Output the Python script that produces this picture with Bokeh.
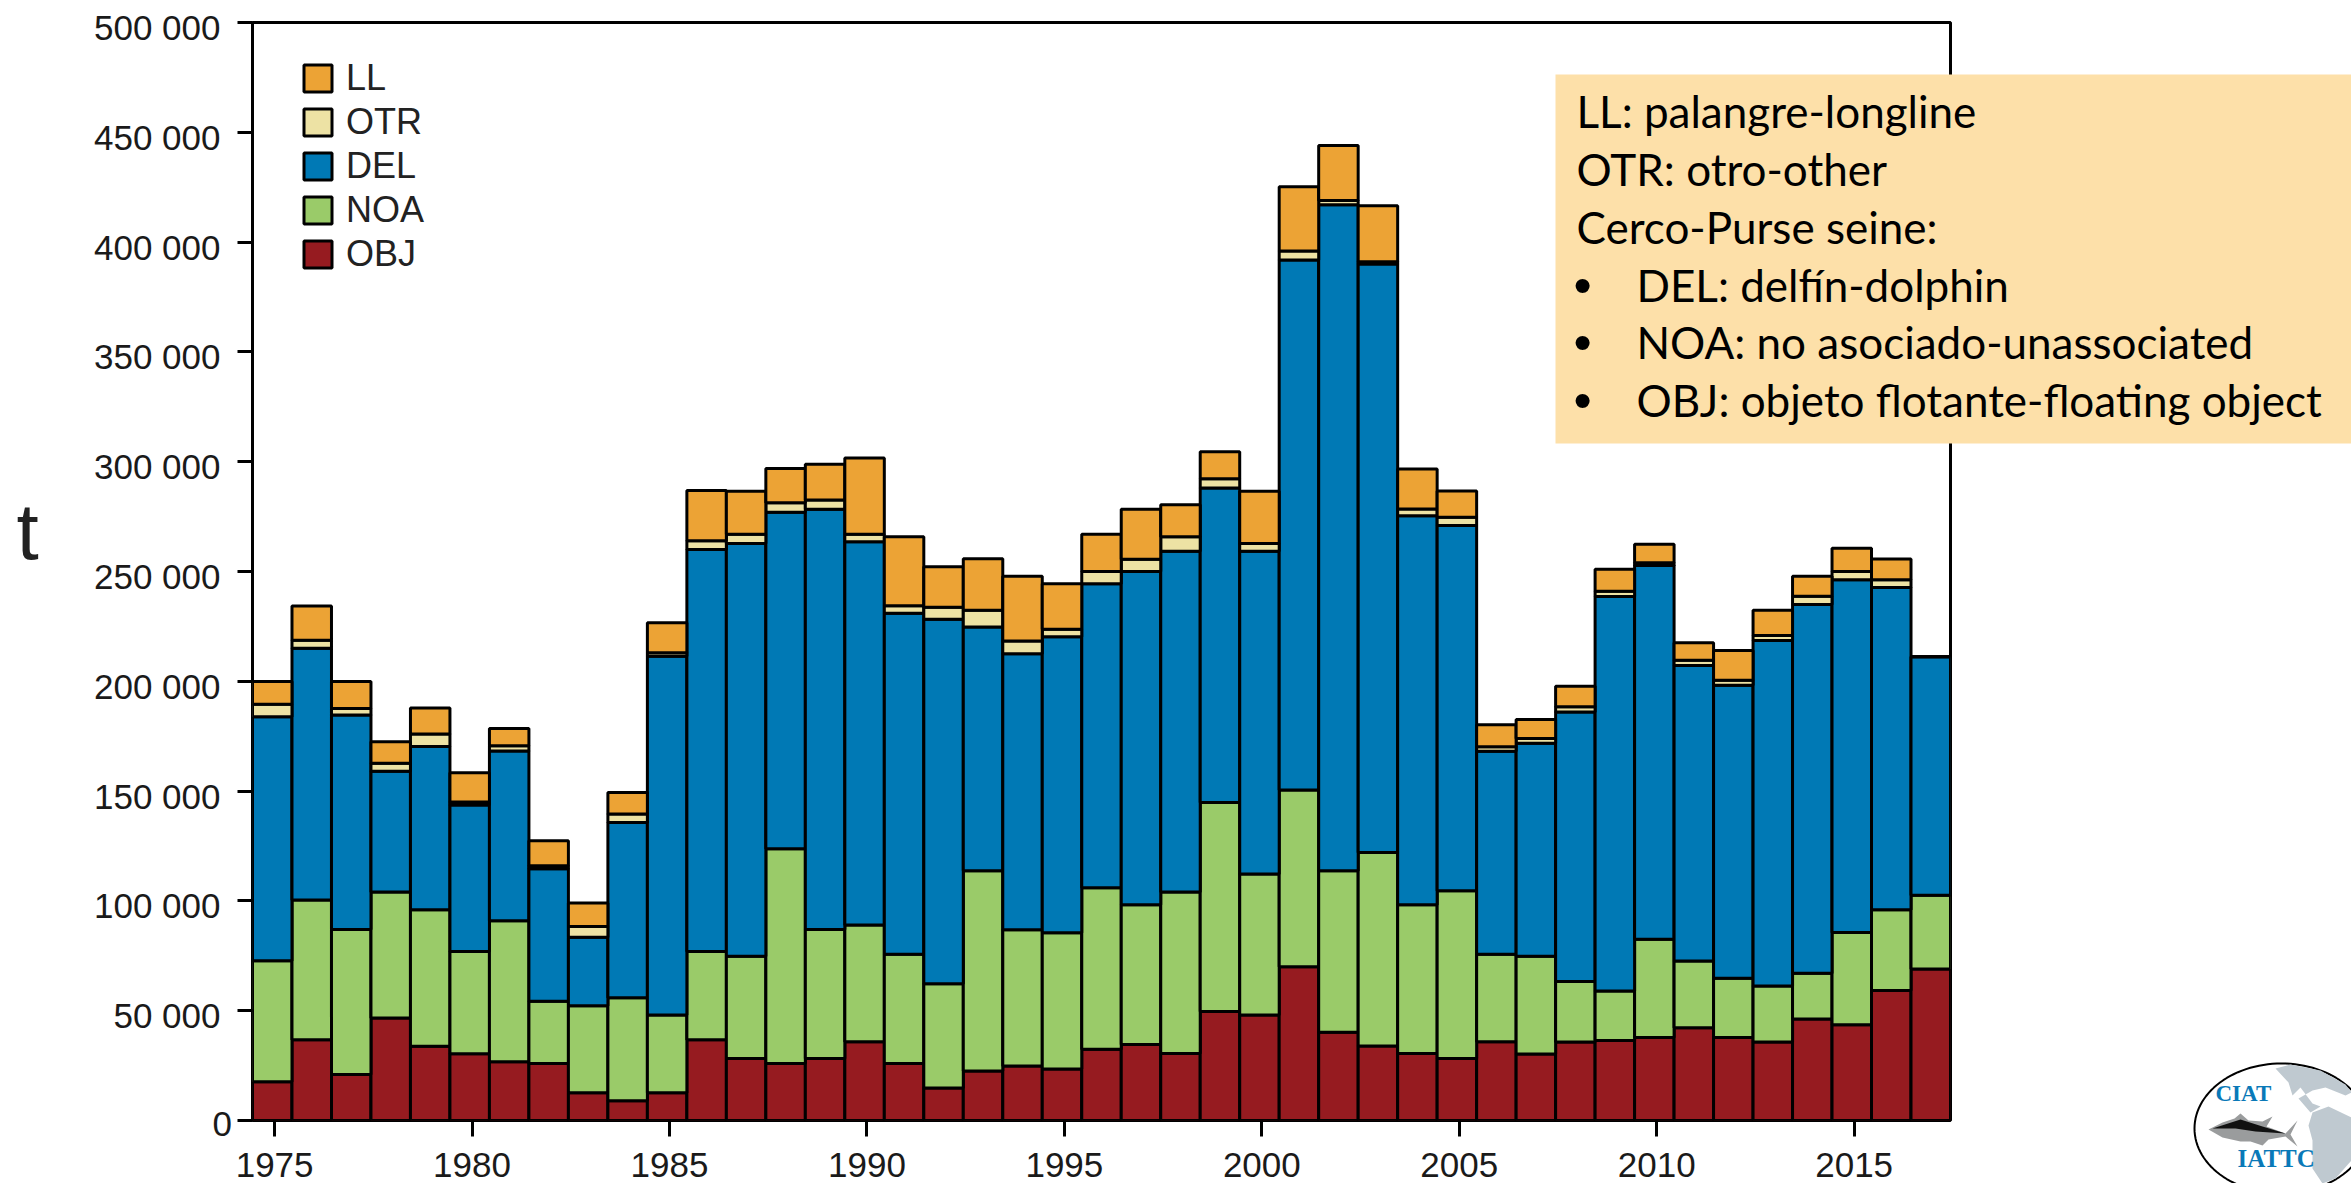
import math
from bokeh.core.properties import value
from bokeh.embed import file_html
from bokeh.layouts import column
from bokeh.resources import INLINE
from bokeh.plotting import figure
from bokeh.models import FixedTicker, Legend, LegendItem, LinearAxis, Range1d, ColumnDataSource

years = list(range(1975, 2018))
obj = [17.7,36.8,21,46.7,33.8,30.4,26.7,26,12.6,9,12.6,36.8,28.2,25.9,28.2,35.9,26,14.8,22.5,24.8,23.4,32.5,34.6,30.5,49.6,48,70,40.2,33.9,30.5,28.2,35.9,30.3,35.7,36.4,37.8,42.2,37.8,35.7,46.2,43.6,59.2,69]
noa = [55.1,63.6,66,57.3,62.2,46.6,64.3,28.3,39.7,46.9,35.4,40.2,46.6,97.8,58.8,53.1,49.7,47.5,91.2,62.1,62.1,73.5,63.6,73.5,95.2,64.3,80.5,73.5,88.1,67.7,76.4,39.8,44.5,27.6,22.6,44.7,30.4,27,25.5,20.8,42,36.8,33.6]
dele = [111.1,114.6,97.6,55,74.3,66.7,77.3,60.3,31.1,79.8,163.4,183,188,153.3,191.3,174.5,155.3,166,111,125.7,134.8,138.4,151.8,155.2,143.2,146.9,241.4,303.3,268,177.2,166.4,92.5,97,122.7,179.6,170.2,134.6,133.4,157.4,168,160.7,146.7,108.6]
otr = [5.6,3.7,3,3.7,5.7,1.3,2.3,1.4,4.9,3.9,1.6,4,4.2,4.3,4.3,3.5,3.4,5.4,7.7,5.7,3.4,5.6,5.6,6.6,4.2,3.6,4.1,2,1,3.1,3.7,2,2.2,2.4,2.4,1.3,2.4,2.3,2.2,3.7,3.7,3.6,0]
ll = [10.4,15.6,12.3,9.8,11.8,13.4,7.9,11.4,10.7,9.8,13.7,22.9,19.5,15.6,16.2,34.7,31.4,18.5,23.4,29.5,20.7,17,22.7,14.6,12.3,23.7,29.2,25,25.5,18.2,12,10,8.6,9.3,10,8.4,8,13.5,11.6,9.1,10.6,9.4,0]

series = ["OBJ", "NOA", "DEL", "OTR", "LL"]
colors = ["#961b20", "#9acb69", "#0079b5", "#ede2a4", "#eca335"]
y_ticks = [0, 50000, 100000, 150000, 200000, 250000, 300000, 350000, 400000, 450000, 500000]
y_labels = ["0", "50 000", "100 000", "150 000", "200 000", "250 000", "300 000", "350 000", "400 000", "450 000", "500 000"]
x_ticks = [1975, 1980, 1985, 1990, 1995, 2000, 2005, 2010, 2015]
note_lines = ["LL: palangre-longline", "OTR: otro-other", "Cerco-Purse seine:"]
note_bullets = ["DEL: delfín-dolphin", "NOA: no asociado-unassociated", "OBJ: objeto flotante-floating object"]

W, H = 2351, 1183

src = ColumnDataSource(dict(year=[y - 0.06 for y in years],
                            OBJ=[v * 1000 for v in obj], NOA=[v * 1000 for v in noa],
                            DEL=[v * 1000 for v in dele], OTR=[v * 1000 for v in otr],
                            LL=[v * 1000 for v in ll]))

p = figure(width=W, height=H, x_range=(1974.44, 2017.44), y_range=(0, 500000),
           output_backend="svg", toolbar_location=None,
           frame_width=1950 - 252, frame_height=1120 - 22,
           min_border_left=252, min_border_right=W - 1950,
           min_border_top=22, min_border_bottom=H - 1120)
p.grid.visible = False
p.outline_line_color = "#000000"
p.outline_line_width = 3

rs = p.vbar_stack(series, x="year", width=1.0, color=colors, source=src,
                  line_color="#000000", line_width=3)

# The tick labels sit a little below their ticks in the reference: they get an axis of their own.
# Its range cannot reach the zero label, which is set apart further down, as in the reference.
p.extra_y_ranges["labels"] = Range1d(2300, 502300)
label_axis = LinearAxis(y_range_name="labels", ticker=FixedTicker(ticks=y_ticks[1:]),
                        major_label_overrides=dict(zip(y_ticks[1:], y_labels[1:])),
                        major_tick_out=0, major_tick_in=0, major_label_standoff=17)
p.add_layout(label_axis, "left")

for ax in (p.xaxis[0], p.yaxis[0], label_axis):
    ax.axis_line_color = None
    ax.minor_tick_line_color = None
    ax.major_tick_in = 0
    ax.major_tick_line_color = "#000000"
    ax.major_tick_line_width = 3
    ax.major_label_text_font = "Liberation Sans"
    ax.major_label_text_font_size = "35px"
    ax.major_label_text_color = "#1a1a1a"

p.yaxis[0].ticker = FixedTicker(ticks=y_ticks)
p.yaxis[0].major_tick_out = 15
p.yaxis[0].major_label_standoff = 0
p.yaxis[0].major_label_overrides = {t: "" for t in y_ticks}
label_axis.major_tick_line_color = None
p.xaxis[0].ticker = FixedTicker(ticks=x_ticks)
p.xaxis[0].major_tick_out = 16
p.xaxis[0].major_label_standoff = 16

legend = Legend(items=[LegendItem(label=s, renderers=[r]) for s, r in reversed(list(zip(series, rs)))],
                location=(48, 1120 - 275), orientation="vertical",
                background_fill_alpha=0, border_line_color=None,
                glyph_width=35, glyph_height=34, spacing=2, padding=0, margin=0,
                label_text_font="Liberation Sans", label_text_font_size="36px",
                label_text_color="#222222", label_standoff=11)
p.add_layout(legend)

# Transparent page-sized sheet on top: note box, "t" and logo, in page pixels.
ov = figure(width=W, height=H, x_range=(0, W), y_range=(H, 0),
            output_backend="svg", toolbar_location=None, min_border=0,
            background_fill_color=None, border_fill_color=None, outline_line_color=None,
            x_axis_location=None, y_axis_location=None)
ov.grid.visible = False


def label(text, x, y, font, size, color="#000000", style="normal"):
    # the reversed sheet draws text lower than its baseline by a share of the size
    ov.text([x], [y - 0.38 * size], text=[text], text_font=value(font), text_font_size=value(f"{size}px"),
            text_color=color, text_font_style=style, text_align="left", text_baseline="alphabetic")


def poly(points, fill, line=None, lw=1.0):
    ov.patch([a for a, b in points], [b for a, b in points], fill_color=fill, line_color=line, line_width=lw)


label("t", 16, 561, "Liberation Sans", 80, "#222222")
label(y_labels[0], 212, 1137, "Liberation Sans", 35, "#1a1a1a")

ov.quad(left=[1555], right=[W], top=[74], bottom=[443], fill_color="#fde0a9", line_color=None)

baselines = [127, 185, 243, 301, 358, 416]
for t, b in zip(note_lines, baselines[:3]):
    label(t, 1576, b, "Lato", 44)
for t, b in zip(note_bullets, baselines[3:]):
    label("•", 1573, b + 3, "Liberation Sans", 52)
    label(t, 1636, b, "Lato", 44)

# logo
cx, cy, rx, ry = 2281, 1128, 87, 65
ell = [(cx + rx * math.cos(a / 60 * math.pi), cy + ry * math.sin(a / 60 * math.pi)) for a in range(120)]
poly(ell, "#ffffff", "#000000", 2)
poly([(2275, 1068), (2290, 1064), (2320, 1070), (2345, 1084), (2351, 1092), (2345, 1095), (2325, 1087), (2312, 1090),
      (2298, 1098), (2310, 1112), (2320, 1106), (2312, 1103), (2300, 1087), (2292, 1095), (2288, 1082)], "#bfc9d0")
poly([(2312, 1112), (2328, 1106), (2351, 1117), (2351, 1160), (2335, 1178), (2322, 1183), (2312, 1168), (2312, 1140), (2308, 1125)], "#bfc9d0")
poly([(2208, 1129), (2222, 1122), (2234, 1118), (2240, 1113), (2248, 1120), (2262, 1121), (2272, 1116), (2266, 1126),
      (2285, 1133), (2297, 1120), (2290, 1134), (2297, 1146), (2285, 1136), (2268, 1139), (2262, 1145), (2250, 1141),
      (2240, 1141), (2222, 1137)], "#9a9c9d")
poly([(2212, 1128), (2240, 1119), (2262, 1126), (2285, 1133), (2255, 1131), (2235, 1128)], "#111111")
label("CIAT", 2215, 1102, "Liberation Serif", 23, "#0a79b8", "bold")
label("IATTC", 2237, 1167, "Liberation Serif", 25, "#0a79b8", "bold")

sheet = column(ov, margin=(-H, 0, 0, 0))
open("out.html", "w").write(file_html(column(p, sheet, spacing=0), INLINE))
